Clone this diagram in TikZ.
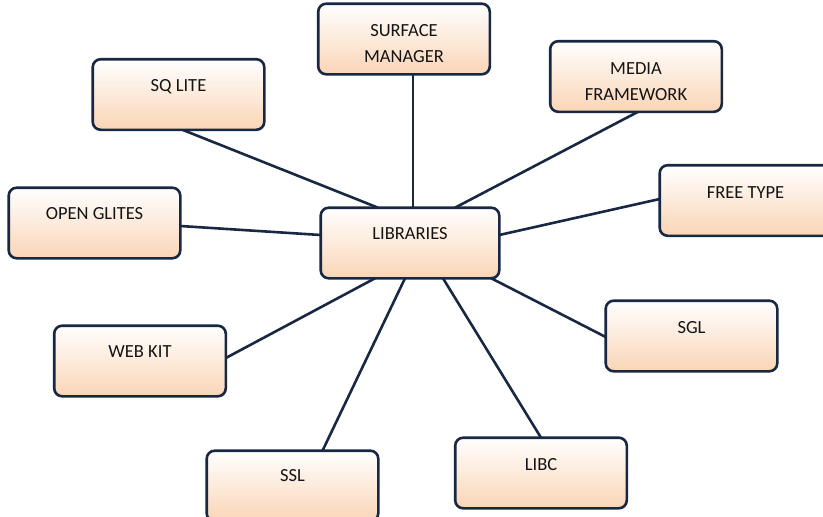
\documentclass[tikz,border=0pt]{standalone}
\usepackage{fontspec}
\setmainfont{Carlito}
\definecolor{navy}{RGB}{24,40,66}
\definecolor{peach}{RGB}{250,213,182}
\definecolor{peachmid}{RGB}{253,236,223}
\definecolor{txt}{RGB}{20,20,20}
\begin{document}
\begin{tikzpicture}[x=1pt,y=-1pt,
  box/.style={draw=navy, line width=2.6pt, rounded corners=8pt,
    minimum width=169pt, minimum height=68pt, inner sep=0pt,
    top color=white, middle color=peachmid, bottom color=peach},
  lbl/.style={anchor=north, inner sep=0pt, align=center, text=txt,
    font=\fontsize{18.5}{26}\selectfont},
  conn/.style={draw=navy, line width=2.6pt}]
\useasboundingbox (0,0) rectangle (823,517);
% boxes (positions)
\node[box] (sm) at (404,39) {};
\node[box] (sq) at (178.5,94.5) {};
\node[box] (mf) at (636,76.5) {};
\node[box] (og) at (94.5,223) {};
\node[box, minimum width=176pt] (lib) at (410,243) {};
\node[box] (ft) at (745.5,200.5) {};
\node[box] (sgl) at (691.5,336) {};
\node[box] (libc) at (541,473) {};
\node[box] (ssl) at (292.5,486) {};
\node[box] (wk) at (140,361) {};
% connectors
\draw[conn] ([xshift=9pt]sm.south) -- ([xshift=3pt]lib.north);
\draw[conn] ([xshift=4pt]sq.south) -- ([xshift=-32pt]lib.north);
\draw[conn] ([xshift=2pt]mf.south) -- ([xshift=45pt]lib.north);
\draw[conn] ([yshift=-3pt]og.east) -- ([yshift=8pt]lib.west);
\draw[conn] ([yshift=1.5pt]ft.west) -- ([yshift=8pt]lib.east);
\draw[conn] ([xshift=-8pt]lib.south east) -- ([yshift=-1pt]sgl.west);
\draw[conn] ([xshift=33pt]lib.south) -- (libc.north);
\draw[conn] ([xshift=-5pt]lib.south) -- ([xshift=30pt]ssl.north);
\draw[conn] ([xshift=-35pt]lib.south) -- ([yshift=3pt]wk.east);
% redraw boxes on top of connector ends
\foreach \n in {sm,sq,mf,og,ft,sgl,libc,ssl,wk}{
  \path[box] (\n.north west) rectangle (\n.south east);
}
\path[box] (lib.north west) rectangle (lib.south east);
% labels
\node[lbl] (tsm) at ([yshift=-21pt]sm.north) {SURFACE\\MANAGER};
\node[lbl] (tsq) at ([yshift=-20pt]sq.north) {SQ LITE};
\node[lbl] (tmf) at ([yshift=-21pt]mf.north) {MEDIA\\FRAMEWORK};
\node[lbl] (tog) at ([yshift=-20pt]og.north) {OPEN GLITES};
\node[lbl] (tlib) at ([yshift=-20pt]lib.north) {LIBRARIES};
\node[lbl] (tft) at ([yshift=-21pt]ft.north) {FREE TYPE};
\node[lbl] (tsgl) at ([yshift=-21pt]sgl.north) {SGL};
\node[lbl] (tlibc) at ([yshift=-21pt]libc.north) {LIBC};
\node[lbl] (tssl) at ([yshift=-19pt]ssl.north) {SSL};
\node[lbl] (twk) at ([yshift=-20pt]wk.north) {WEB KIT};
\end{tikzpicture}
\end{document}
